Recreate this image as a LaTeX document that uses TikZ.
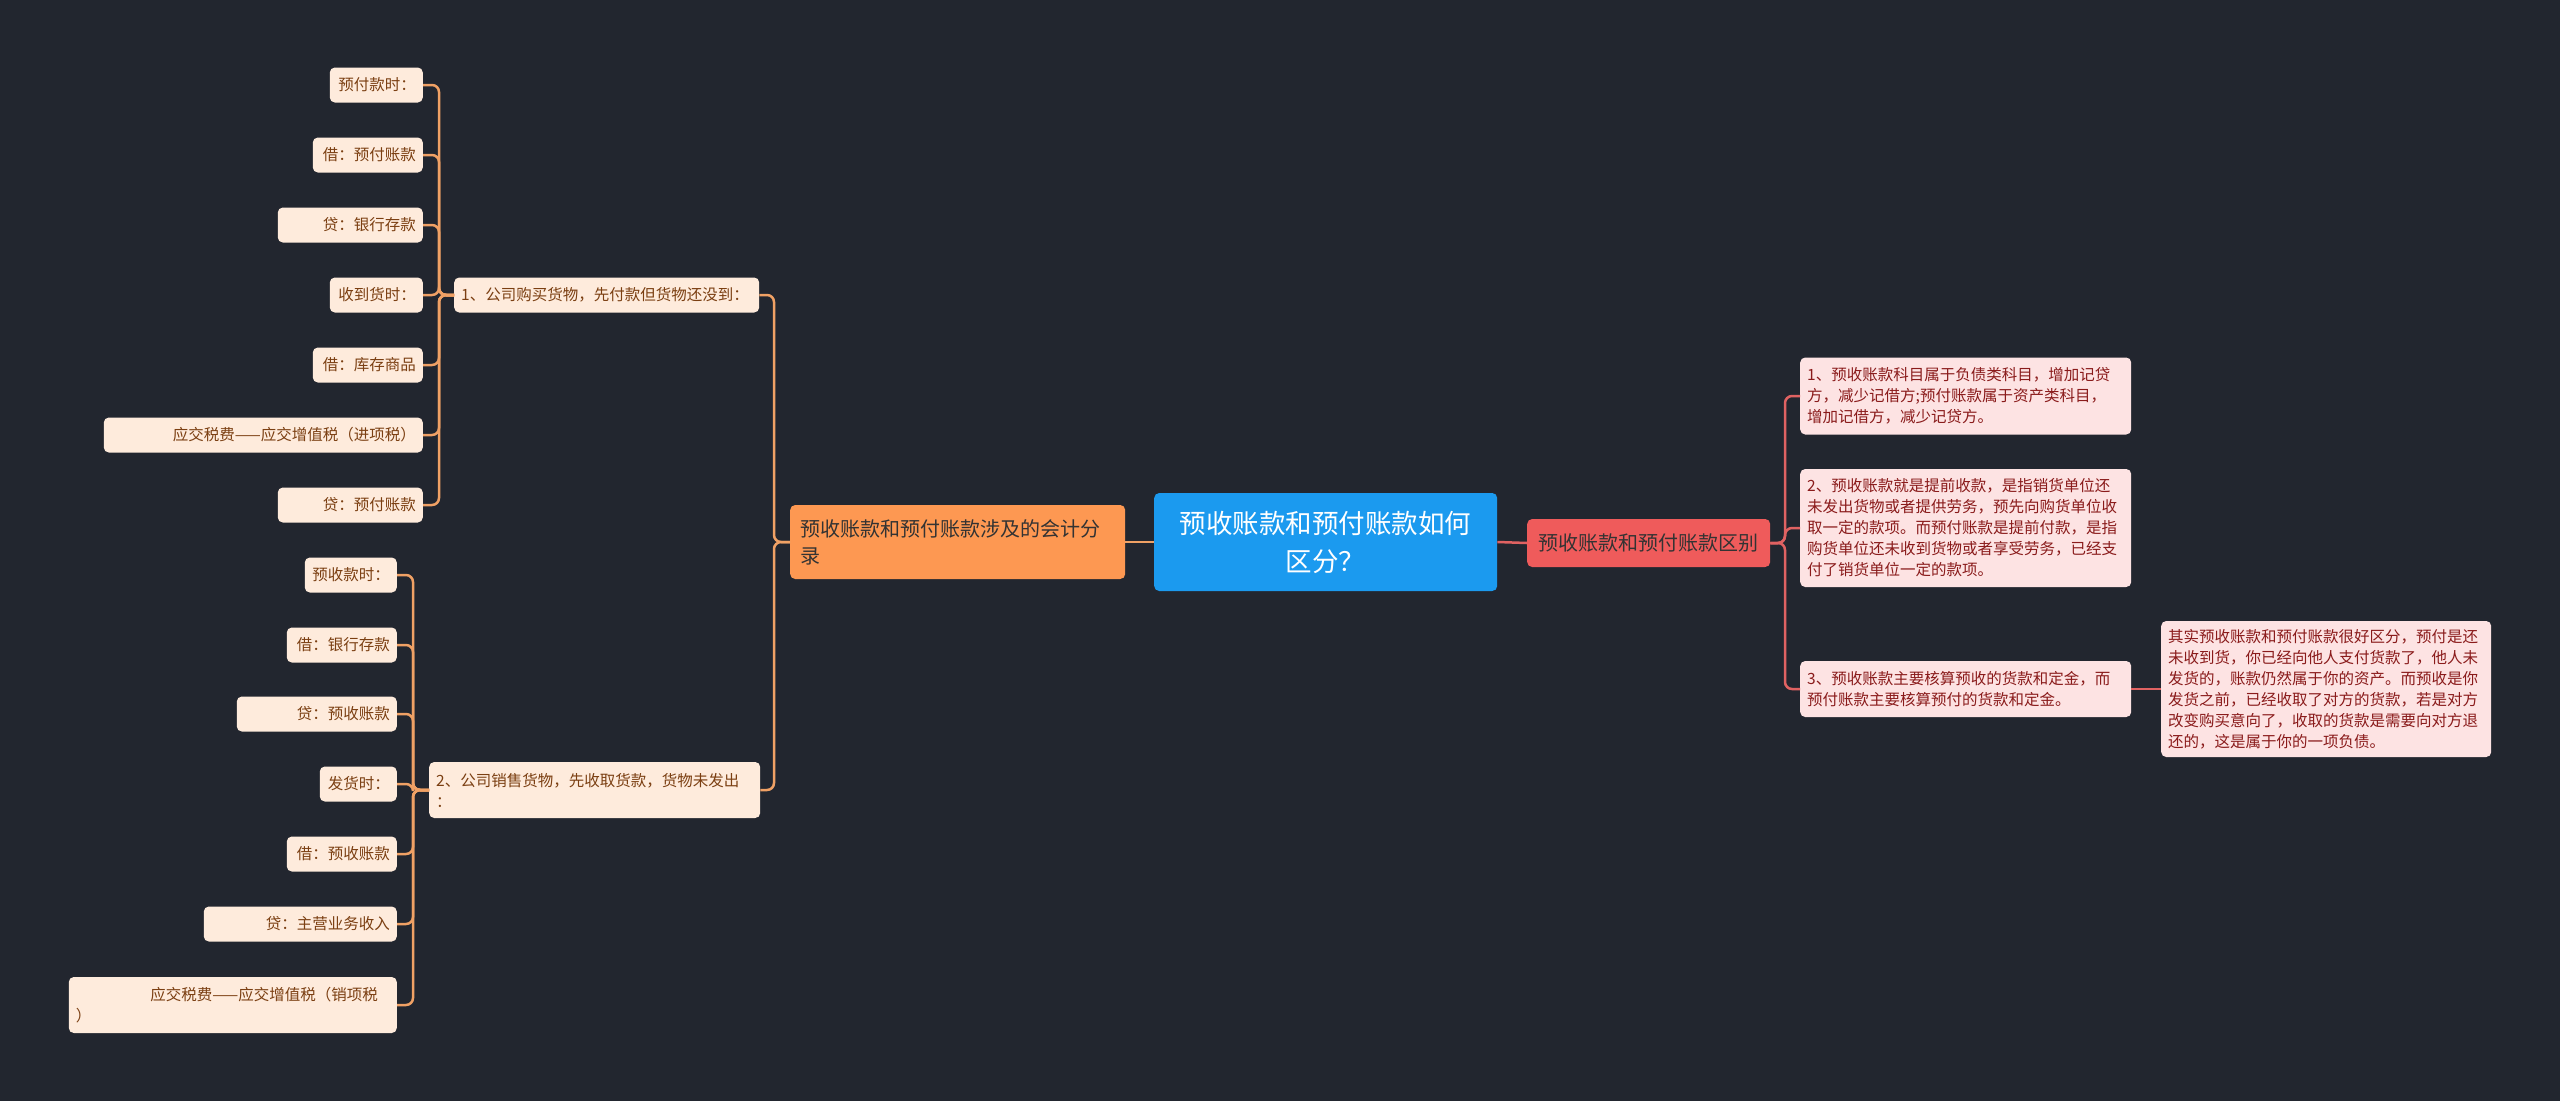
\documentclass[tikz,border=0pt]{standalone}
\usepackage{fontspec}
\newfontfamily\cjk{Noto Sans CJK SC}
\definecolor{bg}{HTML}{22262F}
\definecolor{cblue}{HTML}{1B9AEF}
\definecolor{corange}{HTML}{FD9852}
\definecolor{cred}{HTML}{EF5B5B}
\definecolor{leafL}{HTML}{FEEBDC}
\definecolor{txtL}{HTML}{7B3F12}
\definecolor{leafR}{HTML}{FDE3E3}
\definecolor{txtR}{HTML}{8A1B1B}
\definecolor{lineL}{HTML}{F0A165}
\definecolor{lineR}{HTML}{E06262}
\tikzset{
  base/.style={rounded corners=5pt, inner xsep=7pt, inner ysep=0pt},
  small/.style={font=\cjk\fontsize{15.5}{21}\selectfont},
  lleaf/.style={base, small, fill=leafL, text=txtL, minimum height=35pt, anchor=east, align=right, text width=#1},
  lmid/.style={base, small, fill=leafL, text=txtL, anchor=west, align=left, text width=#1},
  rleaf/.style={base, small, fill=leafR, text=txtR, anchor=west, align=left, text width=#1},
  cL/.style={draw=lineL, line width=2.5pt, rounded corners=7pt},
  cR/.style={draw=lineR, line width=2.5pt, rounded corners=7pt}
}
\begin{document}
\begin{tikzpicture}[x=1pt,y=-1pt]
\fill[bg] (0,0) rectangle (2560,1101);
\useasboundingbox (0,0) rectangle (2560,1101);

% bracket coordinates
\coordinate (xa) at (439,0);
\coordinate (xb) at (413,0);
\coordinate (xo) at (774,0);
\coordinate (xr) at (1785,0);

% upper-left leaves
\node[lleaf=79pt] (a1) at (423,85) {预付款时：};
\node[lleaf=96pt] (a2) at (423,155) {借：预付账款};
\node[lleaf=131pt] (a3) at (423,225) {贷：银行存款};
\node[lleaf=79pt] (a4) at (423,295) {收到货时：};
\node[lleaf=96pt] (a5) at (423,365) {借：库存商品};
\node[lleaf=305pt] (a6) at (423,435) {应交税费——应交增值税（进项税）};
\node[lleaf=131pt] (a7) at (423,505) {贷：预付账款};
\node[lmid=291pt, minimum height=35pt] (p1) at (454,295) {1、公司购买货物，先付款但货物还没到：};

% lower-left leaves
\node[lleaf=78pt] (b1) at (397,575) {预收款时：};
\node[lleaf=96pt] (b2) at (397,645) {借：银行存款};
\node[lleaf=146pt] (b3) at (397,714) {贷：预收账款};
\node[lleaf=63pt] (b4) at (397,784) {发货时：};
\node[lleaf=96pt] (b5) at (397,854) {借：预收账款};
\node[lleaf=179pt] (b6) at (397,924) {贷：主营业务收入};
\node[lleaf=314pt, minimum height=56pt, align=left] (b7) at (397,1005) {\makebox[302pt][r]{应交税费——应交增值税（销项税}\\\makebox[314pt][l]{）}};
\node[lmid=317pt, minimum height=56pt] (p2) at (429,790) {2、公司销售货物，先收取货款，货物未发出\\：};

% main nodes
\node[base, fill=corange, text=black!80, anchor=west, align=left, text width=315pt, inner xsep=10pt, minimum height=74pt, font=\cjk\fontsize{20}{27}\selectfont] (L) at (790,542) {预收账款和预付账款涉及的会计分\\录};
\node[base, fill=cblue, text=white, anchor=west, align=center, text width=323pt, inner xsep=10pt, minimum height=98pt, font=\cjk\fontsize{26.5}{38}\selectfont] (C) at (1154,542) {预收账款和预付账款如何\\区分？};
\node[base, fill=cred, text=black!80, anchor=west, align=center, text width=229pt, minimum height=48pt, font=\cjk\fontsize{20}{27}\selectfont] (R) at (1527,543) {预收账款和预付账款区别};

% right leaves
\node[rleaf=317pt, minimum height=77pt] (r1) at (1800,396) {1、预收账款科目属于负债类科目，增加记贷\\方，减少记借方;预付账款属于资产类科目，\\增加记借方，减少记贷方。};
\node[rleaf=317pt, minimum height=118pt] (r2) at (1800,528) {2、预收账款就是提前收款，是指销货单位还\\未发出货物或者提供劳务，预先向购货单位收\\取一定的款项。而预付账款是提前付款，是指\\购货单位还未收到货物或者享受劳务，已经支\\付了销货单位一定的款项。};
\node[rleaf=317pt, minimum height=56pt] (r3) at (1800,689) {3、预收账款主要核算预收的货款和定金，而\\预付账款主要核算预付的货款和定金。};
\node[rleaf=316pt, minimum height=136pt] (g) at (2161,689) {其实预收账款和预付账款很好区分，预付是还\\未收到货，你已经向他人支付货款了，他人未\\发货的，账款仍然属于你的资产。而预收是你\\发货之前，已经收取了对方的货款，若是对方\\改变购买意向了，收取的货款是需要向对方退\\还的，这是属于你的一项负债。};

% connectors
\foreach \n in {a1,a2,a3,a4,a5,a6,a7}
  \path[cL] (p1.west) -- (xa |- p1.west) |- (\n.east);
\foreach \n in {b1,b2,b3,b4,b5,b6,b7}
  \path[cL] (p2.west) -- (xb |- p2.west) |- (\n.east);
\foreach \n in {p1,p2}
  \path[cL] (L.west) -- (xo |- L.west) |- (\n.east);
\path[cL] (C.west) -- (L.east);
\path[cR] (C.east) -- (R.west);
\foreach \n in {r1,r2,r3}
  \path[cR] (R.east) -- (xr |- R.east) |- (\n.west);
\path[cR] (r3.east) -- (g.west);
\end{tikzpicture}
\end{document}
